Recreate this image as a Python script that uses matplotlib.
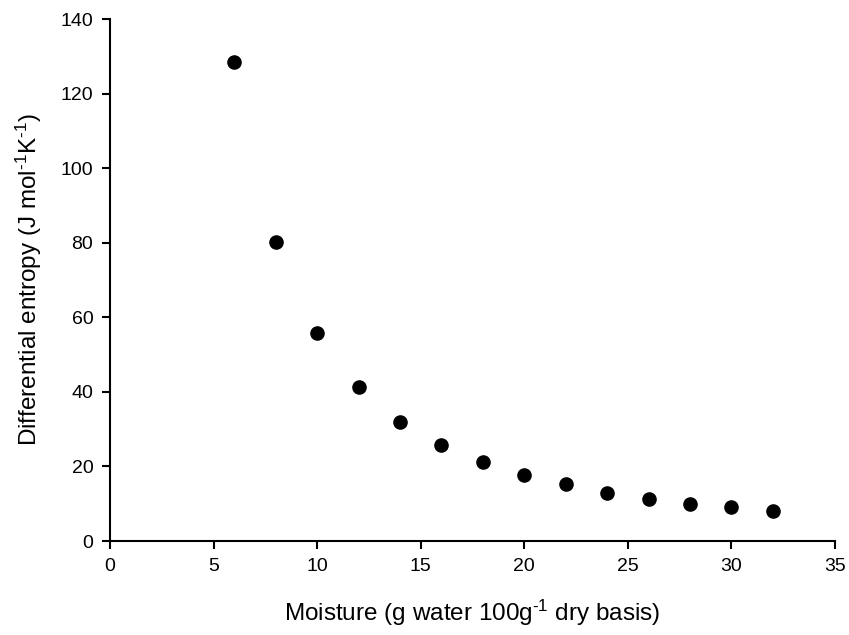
import matplotlib
matplotlib.use('Agg')
import matplotlib.pyplot as plt

# data
moisture = [6, 8, 10, 12, 14, 16, 18, 20, 22, 24, 26, 28, 30, 32]
entropy = [128.4, 80.2, 55.8, 41.3, 31.9, 25.7, 21.2, 17.8, 15.2, 12.9, 11.4, 10.0, 9.1, 8.0]

x_ticks = [0, 5, 10, 15, 20, 25, 30, 35]
y_ticks = [0, 20, 40, 60, 80, 100, 120, 140]

plt.rcParams['font.family'] = ['Liberation Sans', 'DejaVu Sans']
plt.rcParams['mathtext.fontset'] = 'custom'
plt.rcParams['mathtext.rm'] = 'Liberation Sans'
plt.rcParams['mathtext.it'] = 'Liberation Sans'

fig = plt.figure(figsize=(8.49, 6.35), dpi=100)
ax = fig.add_axes([0.1296, 0.148, 0.8539, 0.822])

ax.scatter(moisture, entropy, s=90, color='black', zorder=3, clip_on=False)

ax.set_xlim(0, 35)
ax.set_ylim(0, 140)
ax.set_xticks(x_ticks)
ax.set_yticks(y_ticks)

for side in ['top', 'right']:
    ax.spines[side].set_visible(False)
for side in ['left', 'bottom']:
    ax.spines[side].set_linewidth(1.5)
ax.tick_params(direction='out', length=6, width=1.5, labelsize=14, pad=6)

ax.set_xlabel(r'Moisture (g water 100g$^{\text{-}1}$ dry basis)', fontsize=17.5, labelpad=17)
ax.set_ylabel(r'Differential entropy (J mol$^{\text{-}1}$K$^{\text{-}1}$)', fontsize=17.5, labelpad=12)

fig.savefig('out.png', dpi=100)
